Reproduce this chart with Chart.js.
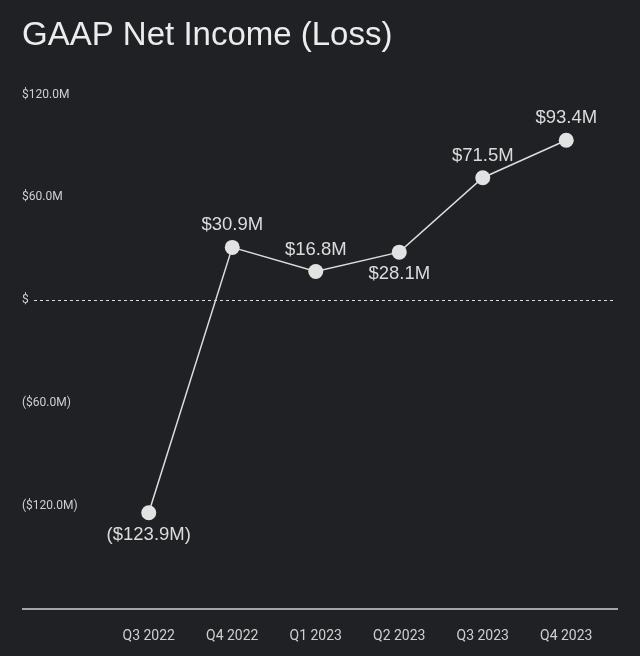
<!DOCTYPE html>
<html>
<head>
<meta charset="utf-8">
<script src="https://cdn.jsdelivr.net/npm/chart.js@4"></script>
<style>
  html, body { margin: 0; padding: 0; background: #1f2124; }
  #wrap { width: 640px; height: 656px; }
</style>
</head>
<body>
<div id="wrap"><canvas id="incomeChart"></canvas></div>
<script>
const quarters = ['Q3 2022', 'Q4 2022', 'Q1 2023', 'Q2 2023', 'Q3 2023', 'Q4 2023'];
const netIncome = [-123.9, 30.9, 16.8, 28.1, 71.5, 93.4];
const labelBelow = [true, false, false, true, false, false];
const yTicks = [120, 60, 0, -60, -120];

const fmt = (v) => {
  if (v === 0) return '$';
  const s = '$' + Math.abs(v).toFixed(1) + 'M';
  return v < 0 ? '(' + s + ')' : s;
};

// dashed zero line, bottom axis line and value labels
const extras = {
  id: 'extras',
  afterDatasetsDraw(chart) {
    const { ctx, chartArea, scales } = chart;
    const y0 = scales.y.getPixelForValue(0);
    ctx.save();
    ctx.strokeStyle = '#dadada';
    ctx.lineWidth = 1;
    ctx.setLineDash([3, 3]);
    ctx.beginPath();
    ctx.moveTo(34, Math.round(y0) + 0.5);
    ctx.lineTo(616, Math.round(y0) + 0.5);
    ctx.stroke();
    ctx.setLineDash([]);
    ctx.lineWidth = 1.5;
    ctx.strokeStyle = '#d2d2d2';
    ctx.beginPath();
    ctx.moveTo(22, chartArea.bottom);
    ctx.lineTo(618, chartArea.bottom);
    ctx.stroke();

    const meta = chart.getDatasetMeta(0);
    ctx.fillStyle = '#dcdcdc';
    ctx.font = '18.5px "Liberation Sans", Arial, sans-serif';
    ctx.textAlign = 'center';
    ctx.textBaseline = 'middle';
    meta.data.forEach((pt, i) => {
      const dy = labelBelow[i] ? 22 : -22;
      ctx.fillText(fmt(netIncome[i]), pt.x, pt.y + dy);
    });
    ctx.restore();
  }
};

new Chart(document.getElementById('incomeChart'), {
  type: 'line',
  data: {
    labels: quarters,
    datasets: [{
      data: netIncome,
      borderColor: '#dcdcdc',
      borderWidth: 1.5,
      pointRadius: 7.5,
      pointHoverRadius: 7.5,
      pointBackgroundColor: '#e2e2e2',
      pointBorderWidth: 0,
      tension: 0
    }]
  },
  options: {
    responsive: true,
    maintainAspectRatio: false,
    animation: false,
    layout: { padding: { left: 22, right: 32, top: 0, bottom: 12 } },
    plugins: {
      legend: { display: false },
      tooltip: { enabled: false },
      title: {
        display: true,
        text: 'GAAP Net Income (Loss)',
        align: 'start',
        color: '#ececec',
        font: { family: '"Liberation Sans", Arial, sans-serif', size: 33, weight: 'normal' },
        padding: { top: 16, bottom: 39 }
      }
    },
    scales: {
      x: {
        offset: true,
        afterFit: (scale) => { scale.height = 35; },
        grid: { display: false, drawTicks: false },
        border: { display: false },
        ticks: {
          color: '#cfcfcf',
          padding: 19,
          maxRotation: 0,
          font: { family: 'Roboto, sans-serif', size: 14 }
        }
      },
      y: {
        min: -180,
        max: 120,
        afterBuildTicks: (scale) => {
          scale.ticks = yTicks.map((v) => ({ value: v }));
        },
        afterFit: (scale) => { scale.width = 85; },
        grid: { display: false, drawTicks: false },
        border: { display: false },
        ticks: {
          color: '#cfcfcf',
          crossAlign: 'far',
          padding: 0,
          font: { family: 'Roboto, sans-serif', size: 12 },
          callback: (v) => fmt(v)
        }
      }
    }
  },
  plugins: [extras]
});
</script>
</body>
</html>
